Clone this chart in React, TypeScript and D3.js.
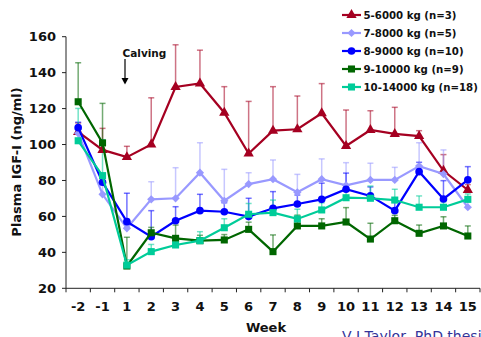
import * as d3 from 'd3';

// weeks relative to calving
const weeks = ['-2', '-1', '1', '2', '3', '4', '5', '6', '7', '8', '9', '10', '11', '12', '13', '14', '15'];
const yTicks = [20, 40, 60, 80, 100, 120, 140, 160];

const yield5to6 = [107, 97, 93, 100, 132, 134, 117.7, 95, 107.7, 108.5, 117.4, 99.2, 108.1, 105.9, 104.7, 85.4, 74.7];
const yield5to6Err = [5, 12, 6, 26, 23.5, 18.5, 14.5, 29, 24.5, 18.5, 16.5, 20, 10.7, 14.8, 3, 9, 3];

const yield7to8 = [106.3, 72.3, 53.4, 69.5, 70.1, 84.3, 68.7, 78, 80.7, 73.4, 80.7, 77.3, 80.3, 80.3, 88, 83.6, 65.1];
const yield7to8Err = [4, 5, 5, 9.8, 17, 16.7, 17.5, 6.3, 10.7, 10, 11.3, 12.6, 9.3, 7, 13, 13.4, 3];

const yield8to9 = [109.4, 79, 57.1, 48.7, 57.6, 63.2, 62.6, 59.9, 64.5, 66.9, 69.5, 75.1, 71.4, 63.2, 84.9, 69.7, 80.3];
const yield8to9Err = [3, 4, 15.8, 14.5, 7.8, 9.1, 5, 10.2, 9.3, 5, 9, 9, 5, 5, 5.2, 10.2, 7.4];

const yield9to10 = [123.8, 100.9, 32.4, 50.9, 47.8, 46.5, 46.9, 52.8, 40.4, 54.7, 54.7, 56.9, 47.4, 57.6, 50.6, 54.7, 49.1];
const yield9to10Err = [21.7, 22, 16, 3, 7.4, 3, 3, 4, 9.3, 6, 4, 8, 8.8, 3, 4.6, 5.1, 5.6];

const yield10to14 = [102.1, 82.7, 32.9, 40.4, 44.1, 46.5, 53.7, 61.2, 62.1, 58.6, 63.6, 70.4, 70.1, 69.1, 65.1, 65.1, 69.5];
const yield10to14Err = [18, 20, 3, 4, 4, 5, 5, 6, 7, 5.4, 4, 4, 6.8, 6, 6.3, 3, 3];

const series = [
  { name: '5-6000 kg (n=3)', values: yield5to6, err: yield5to6Err, color: '#a50021', shape: 'triangle' },
  { name: '7-8000 kg (n=5)', values: yield7to8, err: yield7to8Err, color: '#9999ff', shape: 'diamond' },
  { name: '8-9000 kg (n=10)', values: yield8to9, err: yield8to9Err, color: '#0000ff', shape: 'circle' },
  { name: '9-10000 kg (n=9)', values: yield9to10, err: yield9to10Err, color: '#006600', shape: 'square' },
  { name: '10-14000 kg (n=18)', values: yield10to14, err: yield10to14Err, color: '#00cc99', shape: 'square' },
];

const W = 481;
const H = 337;
const left = 66;
const right = 480;
const top = 36.7;
const bottom = 288.3;
const FONT = '"DejaVu Sans", Verdana, sans-serif';

function markerPath(shape: string) {
  if (shape === 'triangle') return d3.symbol(d3.symbolTriangle, 46)();
  if (shape === 'circle') return d3.symbol(d3.symbolCircle, 46)();
  if (shape === 'square') return d3.symbol(d3.symbolSquare, 50)();
  // diamond = rotated square
  return d3.symbol(d3.symbolSquare, 34)();
}

export default function App() {
  const x = d3.scaleBand().domain(weeks).range([left, right]).padding(0);
  const y = d3.scaleLinear().domain([20, 160]).range([bottom, top]);
  const cx = (w: string) => (x(w) as number) + x.bandwidth() / 2;

  const line = d3.line<number>()
    .x((_, i) => cx(weeks[i]))
    .y(d => y(d));

  return (
    <svg width={W} height={H} style={{ position: 'absolute', left: 0, top: 0, background: '#fff' }}
      fontFamily={FONT}>
      {/* y axis */}
      <line x1={left} x2={left} y1={top} y2={bottom} stroke="#222" strokeWidth={1} />
      {yTicks.map(t => (
        <g key={t}>
          <line x1={left - 4} x2={left} y1={y(t)} y2={y(t)} stroke="#222" />
          <text x={56} y={y(t)} dy="0.36em" textAnchor="end" fontSize={13} fontWeight="bold" fill="#111">{t}</text>
        </g>
      ))}
      {/* x axis */}
      <line x1={left} x2={right} y1={bottom} y2={bottom} stroke="#222" strokeWidth={1} />
      {weeks.map(w => (
        <g key={w}>
          <line x1={x(w)} x2={x(w)} y1={bottom} y2={bottom + 4} stroke="#222" />
          <text x={cx(w)} y={311} textAnchor="middle" fontSize={13} fontWeight="bold" fill="#111">{w}</text>
        </g>
      ))}
      <line x1={right} x2={right} y1={bottom} y2={bottom + 4} stroke="#222" />

      <text x={266} y={332} textAnchor="middle" fontSize={13} fontWeight="bold" fill="#111">Week</text>
      <text transform={`translate(21,162) rotate(-90)`} textAnchor="middle" fontSize={13} fontWeight="bold" fill="#111">
        Plasma IGF-I (ng/ml)
      </text>

      {/* calving marker */}
      <text x={122.5} y={56.5} fontSize={10.5} fontWeight="bold" fill="#111">Calving</text>
      <line x1={125} x2={125} y1={59} y2={80} stroke="#000" strokeWidth={1.2} />
      <path d="M121.5,78 L128.5,78 L125,84.5 Z" fill="#000" />

      {/* error bars */}
      {series.map(s => (
        <g key={s.name + 'err'} stroke={s.color} strokeOpacity={0.55} strokeWidth={1.5}>
          {s.values.map((v, i) => {
            const px = cx(weeks[i]);
            const yt = y(v + s.err[i]);
            return (
              <g key={i}>
                <line x1={px} x2={px} y1={y(v)} y2={yt} />
                <line x1={px - 3} x2={px + 3} y1={yt} y2={yt} />
              </g>
            );
          })}
        </g>
      ))}

      {/* lines and markers */}
      {series.map(s => (
        <g key={s.name}>
          <path d={line(s.values) || ''} fill="none" stroke={s.color} strokeWidth={2.2} />
          {s.values.map((v, i) => (
            <path key={i} d={markerPath(s.shape) || ''} fill={s.color}
              transform={`translate(${cx(weeks[i])},${y(v)})${s.shape === 'diamond' ? ' rotate(45)' : ''}`} />
          ))}
        </g>
      ))}

      {/* legend */}
      {series.map((s, i) => {
        const ly = 15 + i * 18;
        return (
          <g key={s.name + 'leg'}>
            <line x1={342} x2={361} y1={ly} y2={ly} stroke={s.color} strokeWidth={2.2} />
            <path d={markerPath(s.shape) || ''} fill={s.color}
              transform={`translate(351.5,${ly})${s.shape === 'diamond' ? ' rotate(45)' : ''}`} />
            <text x={363.5} y={ly} dy="0.36em" fontSize={10.2} fontWeight="bold" fill="#111">{s.name}</text>
          </g>
        );
      })}

      <text x={342} y={341} fontSize={14} fill="#333399">V J Taylor, PhD thesis</text>
    </svg>
  );
}
